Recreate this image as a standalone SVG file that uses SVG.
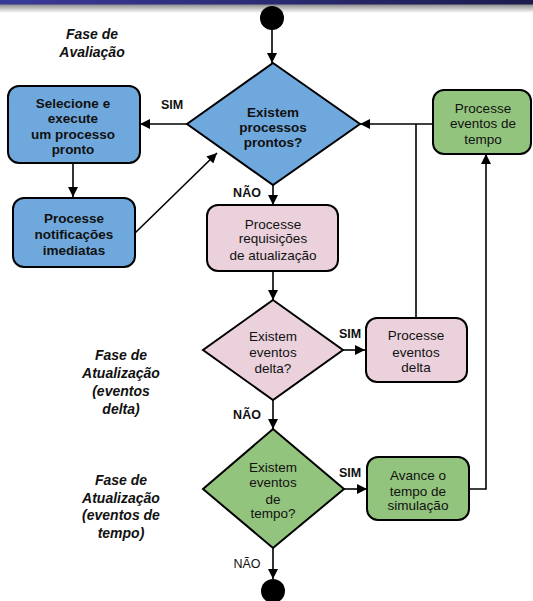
<svg xmlns="http://www.w3.org/2000/svg" width="533" height="601" viewBox="0 0 533 601">
  <defs>
    <linearGradient id="barGrad" x1="0" y1="0" x2="1" y2="0">
      <stop offset="0" stop-color="#3a3a9a"/>
      <stop offset="1" stop-color="#1c1c4e"/>
    </linearGradient>
    <linearGradient id="shadowGrad" x1="0" y1="0" x2="0" y2="1">
      <stop offset="0" stop-color="#888888"/>
      <stop offset="1" stop-color="#ffffff"/>
    </linearGradient>
    <marker id="arrow" viewBox="0 0 10 10" refX="10" refY="5" markerWidth="10" markerHeight="10" markerUnits="userSpaceOnUse" orient="auto">
      <path d="M0,0 L10,5 L0,10 z" fill="#000"/>
    </marker>
    <style>
      .blue { fill: #6fa8dc; stroke: #000; stroke-width: 2; }
      .pink { fill: #ead1dc; stroke: #000; stroke-width: 2; }
      .green { fill: #93c47d; stroke: #000; stroke-width: 2; }
      .t { font-family: "Liberation Sans", Arial, sans-serif; font-size: 13.5px; text-anchor: middle; fill: #111; }
      .b { font-weight: bold; }
      .phase { font-family: "Liberation Sans", Arial, sans-serif; font-size: 14px; font-weight: bold; font-style: italic; text-anchor: middle; fill: #111; }
      .lbl { font-family: "Liberation Sans", Arial, sans-serif; font-size: 12.5px; text-anchor: middle; fill: #111; }
      .conn { fill: none; stroke: #000; stroke-width: 1.6; }
    </style>
  </defs>

  <rect width="533" height="601" fill="#fff"/>
  <!-- header bar -->
  <rect x="0" y="4" width="533" height="9" fill="url(#shadowGrad)"/>
  <rect x="0" y="0" width="533" height="4.5" fill="url(#barGrad)"/>

  <!-- phase captions -->
  <g id="phase-avaliacao">
    <text class="phase" x="92" y="39">Fase de</text>
    <text class="phase" x="92" y="57">Avaliação</text>
  </g>
  <g id="phase-delta">
    <text class="phase" x="121" y="360">Fase de</text>
    <text class="phase" x="121" y="378">Atualização</text>
    <text class="phase" x="121" y="396">(eventos</text>
    <text class="phase" x="121" y="414">delta)</text>
  </g>
  <g id="phase-tempo">
    <text class="phase" x="121" y="485">Fase de</text>
    <text class="phase" x="121" y="503">Atualização</text>
    <text class="phase" x="121" y="520">(eventos de</text>
    <text class="phase" x="121" y="538">tempo)</text>
  </g>

  <!-- connectors -->
  <g id="connectors">
    <line class="conn" x1="272" y1="29" x2="272" y2="63" marker-end="url(#arrow)"/>
    <line class="conn" x1="187" y1="124" x2="140" y2="124" marker-end="url(#arrow)"/>
    <line class="conn" x1="73" y1="163" x2="73" y2="197" marker-end="url(#arrow)"/>
    <line class="conn" x1="135" y1="233" x2="217" y2="153" marker-end="url(#arrow)"/>
    <line class="conn" x1="273" y1="185" x2="273" y2="205" marker-end="url(#arrow)"/>
    <line class="conn" x1="273" y1="271" x2="273" y2="300" marker-end="url(#arrow)"/>
    <line class="conn" x1="343" y1="350" x2="365" y2="350" marker-end="url(#arrow)"/>
    <polyline class="conn" points="416,318 416,124"/>
    <line class="conn" x1="433" y1="124" x2="360" y2="124" marker-end="url(#arrow)"/>
    <line class="conn" x1="273" y1="400" x2="273" y2="429" marker-end="url(#arrow)"/>
    <line class="conn" x1="344" y1="489" x2="367" y2="489" marker-end="url(#arrow)"/>
    <polyline class="conn" points="469,489 486,489 486,154" marker-end="url(#arrow)"/>
    <line class="conn" x1="273" y1="548" x2="273" y2="579" marker-end="url(#arrow)"/>
    <text class="lbl b" x="172" y="109">SIM</text>
    <text class="lbl b" x="247" y="197">NÃO</text>
    <text class="lbl b" x="350" y="338">SIM</text>
    <text class="lbl b" x="247" y="419">NÃO</text>
    <text class="lbl b" x="350" y="477">SIM</text>
    <text class="lbl" x="247" y="568">NÃO</text>
  </g>

  <!-- start / end -->
  <g id="start">
    <circle cx="272" cy="18" r="12" fill="#000"/>
  </g>
  <g id="end">
    <circle cx="273" cy="591" r="12" fill="#000"/>
  </g>

  <!-- nodes -->
  <g id="dec-prontos">
    <polygon class="blue" points="273,63 360,124 273,185 187,124"/>
    <text class="t b" x="273" y="117">Existem</text>
    <text class="t b" x="273" y="132">processos</text>
    <text class="t b" x="273" y="147">prontos?</text>
  </g>
  <g id="box-selecione">
    <rect class="blue" x="8" y="86" width="132" height="77" rx="11"/>
    <text class="t b" x="73" y="108">Selecione e</text>
    <text class="t b" x="73" y="123">execute</text>
    <text class="t b" x="73" y="139">um processo</text>
    <text class="t b" x="73" y="154">pronto</text>
  </g>
  <g id="box-notificacoes">
    <rect class="blue" x="13" y="198" width="122" height="69" rx="11"/>
    <text class="t b" x="74" y="223">Processe</text>
    <text class="t b" x="74" y="239">notificações</text>
    <text class="t b" x="74" y="255">imediatas</text>
  </g>
  <g id="box-requisicoes">
    <rect class="pink" x="207" y="205" width="131" height="66" rx="11"/>
    <text class="t" x="273" y="229">Processe</text>
    <text class="t" x="273" y="243">requisições</text>
    <text class="t" x="273" y="260">de atualização</text>
  </g>
  <g id="dec-delta">
    <polygon class="pink" points="273,300 343,350 273,400 203,350"/>
    <text class="t" x="273" y="341">Existem</text>
    <text class="t" x="273" y="357">eventos</text>
    <text class="t" x="273" y="373">delta?</text>
  </g>
  <g id="box-delta">
    <rect class="pink" x="366" y="318" width="101" height="64" rx="11"/>
    <text class="t" x="416" y="340">Processe</text>
    <text class="t" x="416" y="357">eventos</text>
    <text class="t" x="416" y="372">delta</text>
  </g>
  <g id="box-eventos-tempo">
    <rect class="green" x="433" y="90" width="98" height="64" rx="11"/>
    <text class="t" x="483" y="113">Processe</text>
    <text class="t" x="483" y="128">eventos de</text>
    <text class="t" x="483" y="144">tempo</text>
  </g>
  <g id="dec-tempo">
    <polygon class="green" points="273,429 344,489 273,548 203,489"/>
    <text class="t" x="273" y="472">Existem</text>
    <text class="t" x="273" y="487">eventos</text>
    <text class="t" x="273" y="504">de</text>
    <text class="t" x="273" y="518">tempo?</text>
  </g>
  <g id="box-avance">
    <rect class="green" x="367" y="457" width="102" height="63" rx="11"/>
    <text class="t" x="418" y="480">Avance o</text>
    <text class="t" x="418" y="496">tempo de</text>
    <text class="t" x="418" y="510">simulação</text>
  </g>
</svg>
